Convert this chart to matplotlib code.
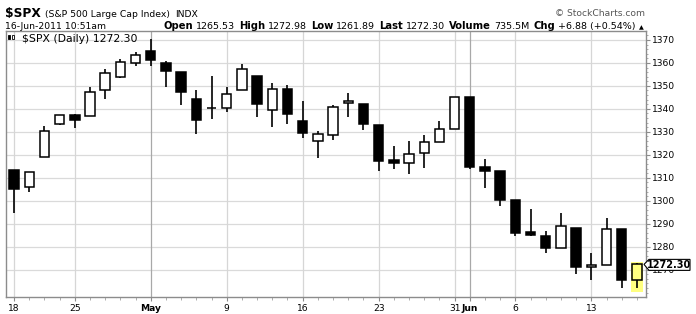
import matplotlib
matplotlib.use("Agg")
import matplotlib.pyplot as plt
from matplotlib.patches import Rectangle, Polygon
from matplotlib.ticker import MultipleLocator

W, H = 696, 314

# daily OHLC, 18-Apr-2011 .. 16-Jun-2011 (trading days only)
dates = ['04-18', '04-19', '04-20', '04-21', '04-25', '04-26', '04-27', '04-28', '04-29',
         '05-02', '05-03', '05-04', '05-05', '05-06', '05-09', '05-10', '05-11', '05-12', '05-13',
         '05-16', '05-17', '05-18', '05-19', '05-20', '05-23', '05-24', '05-25', '05-26', '05-27',
         '05-31', '06-01', '06-02', '06-03', '06-06', '06-07', '06-08', '06-09', '06-10',
         '06-13', '06-14', '06-15', '06-16']
opens = [1313.35, 1305.99, 1319.12, 1333.23, 1337.14, 1336.75, 1348.43, 1353.86, 1360.14,
         1365.21, 1359.76, 1355.90, 1344.16, 1340.24, 1340.20, 1348.34, 1354.51, 1339.39, 1348.69,
         1334.77, 1326.10, 1328.54, 1342.40, 1342.00, 1333.07, 1317.70, 1316.36, 1320.64, 1325.69,
         1331.10, 1345.20, 1314.55, 1312.94, 1300.26, 1286.31, 1284.63, 1279.63, 1288.26,
         1271.31, 1272.22, 1287.87, 1265.53]
highs = [1313.35, 1312.70, 1332.66, 1337.49, 1337.55, 1349.55, 1357.49, 1361.71, 1364.56,
         1370.58, 1360.84, 1355.90, 1348.00, 1354.36, 1349.44, 1359.44, 1354.51, 1351.05, 1350.47,
         1343.33, 1330.42, 1341.82, 1346.82, 1342.00, 1333.07, 1323.72, 1325.86, 1328.51, 1334.62,
         1345.20, 1345.20, 1318.03, 1312.94, 1300.26, 1296.22, 1287.04, 1294.54, 1288.26,
         1277.04, 1292.50, 1287.87, 1272.98]
lows = [1294.70, 1303.97, 1319.12, 1332.83, 1331.47, 1336.75, 1344.25, 1353.60, 1358.69,
        1358.59, 1349.52, 1341.50, 1329.17, 1335.58, 1338.64, 1348.34, 1336.36, 1332.03, 1333.36,
        1327.32, 1318.51, 1326.59, 1336.36, 1330.67, 1312.88, 1313.87, 1311.80, 1314.41, 1325.69,
        1331.10, 1313.71, 1305.61, 1297.90, 1284.72, 1284.74, 1277.42, 1279.63, 1268.28,
        1265.64, 1272.22, 1261.90, 1261.89]
closes = [1305.14, 1312.62, 1330.36, 1337.38, 1335.25, 1347.24, 1355.66, 1360.48, 1363.61,
          1361.22, 1356.62, 1347.32, 1335.10, 1340.20, 1346.29, 1357.16, 1342.08, 1348.65, 1337.77,
          1329.47, 1328.98, 1340.68, 1343.60, 1333.27, 1317.37, 1316.28, 1320.47, 1325.69, 1331.10,
          1345.20, 1314.55, 1312.94, 1300.16, 1286.17, 1284.94, 1279.56, 1289.00, 1270.98,
          1271.83, 1287.87, 1265.42, 1272.30]

tick_idx = [0, 4, 9, 14, 19, 24, 29, 30, 33, 38]
tick_labels = ['18', '25', 'May', '9', '16', '23', '31', 'Jun', '6', '13']
month_labels = ['May', 'Jun']
y_ticks = [1270, 1280, 1290, 1300, 1310, 1320, 1330, 1340, 1350, 1360, 1370]
last_price = 1272.30

HILITE = '#ffff80'


def fx(x):
    return x / W


def fy(y):
    return 1 - y / H


fig = plt.figure(figsize=(W / 100, H / 100), dpi=100)
fig.patch.set_facecolor('white')
ax = fig.add_axes([fx(6), fy(297), fx(640), 266 / H])

# grid
for v in y_ticks:
    ax.axhline(v, color='#dadada', lw=0.9, zorder=0)
for i, lab in zip(tick_idx, tick_labels):
    c = '#a8a8a8' if lab in month_labels else '#d6d6d6'
    ax.axvline(i, color=c, lw=0.9, zorder=0)

# highlight on last bar
n = len(opens) - 1
ax.add_patch(Rectangle((n - 0.4, lows[n] - 1.6), 0.8, highs[n] - lows[n] + 2.0,
                       facecolor=HILITE, edgecolor='none', zorder=1))

# candles
bw = 0.62
for i in range(len(opens)):
    o, h, l, c = opens[i], highs[i], lows[i], closes[i]
    ax.vlines(i, l, h, color='black', lw=1.2, zorder=2)
    if c >= o:
        fc = HILITE if i == n else 'white'
    else:
        fc = 'black'
    ax.add_patch(Rectangle((i - bw / 2, min(o, c)), bw, max(abs(c - o), 0.05),
                           facecolor=fc, edgecolor='black', lw=1.1, zorder=3))

ax.set_xlim(-0.53, 41.6)
ax.set_ylim(1258.1, 1373.9)

for s in ax.spines.values():
    s.set_color('#8c8c8c')
    s.set_linewidth(1.0)

ax.yaxis.tick_right()
ax.set_yticks(y_ticks)
ax.yaxis.set_minor_locator(MultipleLocator(2))
ax.tick_params(axis='y', which='major', length=3, width=0.8, colors='#8c8c8c',
               labelcolor='black', labelsize=6.6, pad=1.5)
ax.tick_params(axis='y', which='minor', length=1.5, width=0.6, colors='#a0a0a0')

ax.set_xticks(tick_idx, tick_labels)
ax.set_xticks(range(len(opens)), minor=True)
ax.tick_params(axis='x', which='major', length=3, width=0.8, colors='#8c8c8c',
               labelcolor='black', labelsize=6.6, pad=2)
ax.tick_params(axis='x', which='minor', length=2, width=0.6, colors='#a0a0a0')
for t in ax.get_xticklabels():
    if t.get_text() in month_labels:
        t.set_fontweight('bold')

# legend line inside the plot
fig.text(fx(22), fy(41.5), '$SPX (Daily) 1272.30', fontsize=7.8, ha='left', va='baseline',
         zorder=5)
for dx, filled in [(0, True), (4, False)]:
    x0 = 8 + dx
    fig.add_artist(Rectangle((fx(x0), fy(39)), 2.4 / W, 4 / H, transform=fig.transFigure,
                             facecolor='black' if filled else 'white', edgecolor='black', lw=0.6))
    fig.add_artist(plt.Line2D([fx(x0 + 1.2)] * 2, [fy(40.5), fy(33.5)], transform=fig.transFigure,
                              color='black', lw=0.6, zorder=-1))

# last price tag
py = ax.transData.transform((0, last_price))[1]
tag_y = H - py
fig.add_artist(Polygon([(fx(644), fy(tag_y)), (fx(649), fy(tag_y - 5)), (fx(690), fy(tag_y - 5)),
                        (fx(690), fy(tag_y + 6)), (fx(649), fy(tag_y + 6))],
                       closed=True, transform=fig.transFigure, facecolor='white',
                       edgecolor='black', lw=0.8))
fig.text(fx(669.5), fy(tag_y + 0.5), '1272.30', fontsize=7, fontweight='bold',
         ha='center', va='center')

# header text
renderer = fig.canvas.get_renderer()


def run_text(x, y, parts):
    for s, bold, size, gap in parts:
        t = fig.text(fx(x), fy(y), s, fontsize=size, fontweight='bold' if bold else 'normal',
                     ha='left', va='baseline')
        x += t.get_window_extent(renderer).width + gap
    return x


run_text(5, 17, [('$SPX', True, 8.8, 4), ('(S&P 500 Large Cap Index)', False, 6.7, 5),
                 ('INDX', False, 6.7, 0)])
run_text(5, 29, [('16-Jun-2011 10:51am', False, 6.7, 0)])
run_text(163, 29, [('Open', True, 7.2, 3), ('1265.53', False, 6.8, 4),
                   ('High', True, 7.2, 3), ('1272.98', False, 6.8, 4),
                   ('Low', True, 7.2, 3), ('1261.89', False, 6.8, 4),
                   ('Last', True, 7.2, 3), ('1272.30', False, 6.8, 4),
                   ('Volume', True, 7.2, 3), ('735.5M', False, 6.8, 4),
                   ('Chg', True, 7.2, 3), ('+6.88 (+0.54%)', False, 6.8, 3),
                   ('\u25b2', False, 4.5, 0)])
fig.text(fx(645), fy(16.5), '\u00a9 StockCharts.com', fontsize=6.6, color='#555555',
         ha='right', va='baseline')

fig.savefig('out.png', dpi=100)
